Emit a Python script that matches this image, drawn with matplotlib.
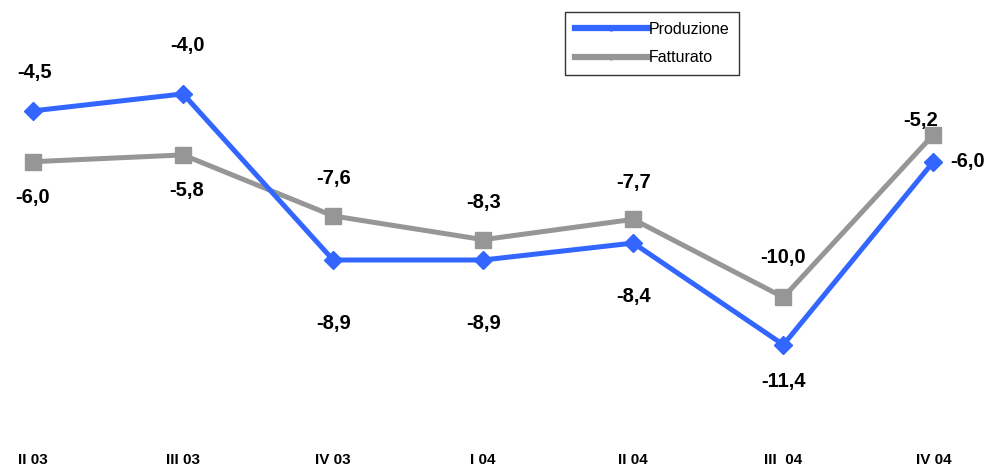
import matplotlib.pyplot as plt
from matplotlib.lines import Line2D

quarters = ["II 03", "III 03", "IV 03", "I 04", "II 04", "III  04", "IV 04"]
produzione = [-4.5, -4.0, -8.9, -8.9, -8.4, -11.4, -6.0]
fatturato = [-6.0, -5.8, -7.6, -8.3, -7.7, -10.0, -5.2]

BLUE = "#3366FF"
GREY = "#969696"

# label offsets in pixels (dx, dy) for each point
off_prod = [(2, 38), (4, 48), (0, -64), (0, -64), (0, -53), (0, -37), (34, 0)]
off_fatt = [(0, -36), (4, -36), (0, 37), (0, 37), (0, 37), (0, 40), (-13, 14)]

fig = plt.figure(figsize=(9.95, 4.68), dpi=100)
ax = fig.add_axes([0, 28 / 468, 1, 440 / 468])

x = list(range(len(quarters)))
ax.plot(x, fatturato, color=GREY, lw=3.6, marker="s", ms=11,
        markeredgecolor=GREY, zorder=2)
ax.plot(x, produzione, color=BLUE, lw=3.6, marker="D", ms=9,
        markeredgecolor=BLUE, zorder=3)

for xi, v, (dx, dy) in zip(x, produzione, off_prod):
    ax.annotate(f"{v:.1f}".replace(".", ","), (xi, v), xytext=(dx, dy),
                textcoords="offset pixels", ha="center", va="center",
                fontsize=14.5, fontweight="bold", family="Liberation Sans")
for xi, v, (dx, dy) in zip(x, fatturato, off_fatt):
    ax.annotate(f"{v:.1f}".replace(".", ","), (xi, v), xytext=(dx, dy),
                textcoords="offset pixels", ha="center", va="center",
                fontsize=14.5, fontweight="bold", family="Liberation Sans")

ax.set_xlim(-0.22, 6.41)
ax.set_ylim(-14.21, -1.23)
ax.set_xticks(x)
ax.set_xticklabels(quarters, family="Liberation Sans",
                   fontsize=11, fontweight="bold")
ax.tick_params(axis="x", length=0, pad=9)
ax.set_yticks([])
for s in ax.spines.values():
    s.set_visible(False)

handles = [
    Line2D([], [], color=BLUE, lw=4.5, marker="|", ms=5, mew=2),
    Line2D([], [], color=GREY, lw=4.5, marker="|", ms=5, mew=2),
]
leg = fig.legend(handles, ["Produzione", "Fatturato"], loc="upper left",
                 bbox_to_anchor=(565 / 995, 1 - 12 / 468), frameon=True,
                 fancybox=False, edgecolor="black", handlelength=4.6,
                 handletextpad=0.05, borderpad=0.6, labelspacing=0.85,
                 borderaxespad=0,
                 prop={"family": "Liberation Sans", "size": 11.5})
leg.get_frame().set_linewidth(1.0)

fig.savefig("out.png", dpi=100, facecolor="white")
